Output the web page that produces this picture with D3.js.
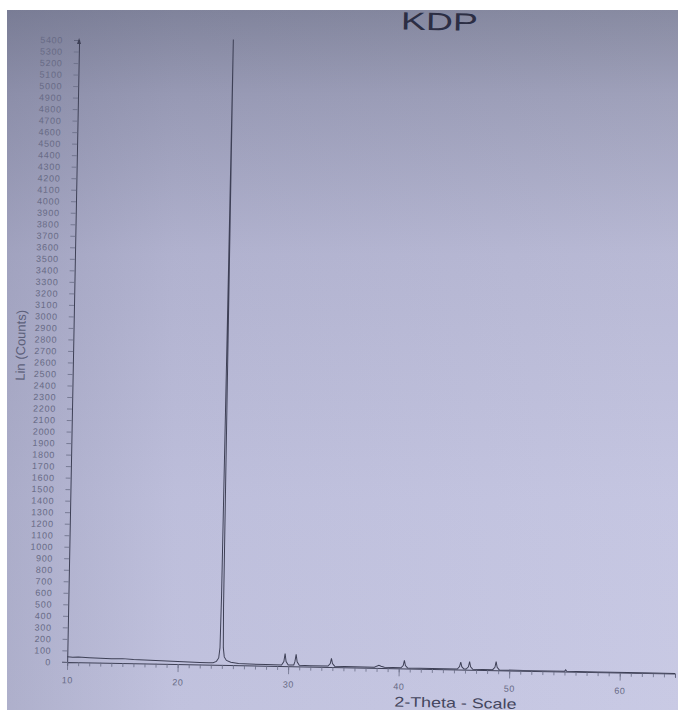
<!DOCTYPE html>
<html>
<head>
<meta charset="utf-8">
<script src="https://cdn.jsdelivr.net/npm/d3@7"></script>
<style>
html,body{margin:0;padding:0;background:#fff;}
svg{display:block;}
</style>
</head>
<body>
<div id="chart"></div>
<script>
// ---- data ----
const title = "KDP";
const xLabel = "2-Theta - Scale";
const yLabel = "Lin (Counts)";
const xTicks = [10, 20, 30, 40, 50, 60];
const yMax = 5400;
const yTicks = d3.range(0, yMax + 1, 100);
const twoTheta = [10.0, 10.5, 11.0, 12.0, 13.0, 14.0, 15.0, 16.0, 17.0, 18.0, 19.0, 20.0, 21.0, 22.0, 22.8, 23.2, 23.5, 23.7, 23.8, 23.85, 23.9, 23.95, 24.0, 24.05, 24.1, 24.2, 24.4, 24.8, 25.5, 26.5, 28.0,
  29.4, 29.6, 29.7, 29.8, 30.0, 30.5, 30.6, 30.7, 30.8, 31.0, 32.0, 33.6, 33.8, 33.9, 34.0, 34.2, 36.0,
  37.8, 38.0, 38.2, 38.4, 38.7, 40.2, 40.4, 40.5, 40.6, 40.8, 43.0, 45.3, 45.5, 45.6, 45.7, 45.9, 46.1,
  46.3, 46.4, 46.5, 46.7, 48.5, 48.7, 48.8, 48.9, 49.1, 52.0, 55.0, 55.1, 55.2, 58.0, 62.0, 65.0];
const counts = [45, 42, 44, 40, 38, 36, 38, 32, 30, 28, 25, 22, 20, 18, 16, 18, 30, 60, 150, 600, 2800, 5430, 2600, 500, 150, 70, 40, 25, 15, 12, 10,
  10, 40, 110, 40, 10, 12, 40, 105, 40, 10, 8, 8, 30, 75, 30, 8, 6,
  6, 15, 22, 15, 6, 5, 25, 70, 25, 5, 4, 4, 25, 65, 25, 5, 5,
  25, 70, 25, 4, 4, 25, 75, 25, 3, 2, 2, 15, 2, 1, 2, 1];

// ---- layout ----
const W = 678, H = 711;
const svg = d3.select("#chart").append("svg").attr("width", W).attr("height", H);
const defs = svg.append("defs");

const gv = defs.append("linearGradient").attr("id", "bgv").attr("x1", 0).attr("y1", 0).attr("x2", 0).attr("y2", 1);
gv.append("stop").attr("offset", 0).attr("stop-color", "#82859d");
gv.append("stop").attr("offset", 0.12).attr("stop-color", "#9a9cb7");
gv.append("stop").attr("offset", 0.35).attr("stop-color", "#b5b6d3");
gv.append("stop").attr("offset", 0.7).attr("stop-color", "#c2c3e0");
gv.append("stop").attr("offset", 1).attr("stop-color", "#c6c7e3");

const gh = defs.append("linearGradient").attr("id", "bgh").attr("x1", 0).attr("y1", 0).attr("x2", 1).attr("y2", 0);
gh.append("stop").attr("offset", 0).attr("stop-color", "#5a5d78").attr("stop-opacity", 0.22);
gh.append("stop").attr("offset", 0.25).attr("stop-color", "#5a5d78").attr("stop-opacity", 0.05);
gh.append("stop").attr("offset", 1).attr("stop-color", "#ffffff").attr("stop-opacity", 0.05);

svg.append("rect").attr("x", 7).attr("y", 10).attr("width", W - 7).attr("height", 700).attr("fill", "url(#bgv)");
svg.append("rect").attr("x", 7).attr("y", 10).attr("width", W - 7).attr("height", 700).attr("fill", "url(#bgh)");

const ink = "#3e4056";
const g = svg.append("g").attr("transform", "rotate(1.1,370,360)");

const x = d3.scaleLinear().domain([10, 65]).range([73, 681]);
const y = d3.scaleLinear().domain([0, yMax]).range([667.7, 45.7]);

// y axis
const yAxis = g.append("g").attr("transform", `translate(${x(10)},0)`)
  .call(d3.axisLeft(y).tickValues(yTicks).tickSize(5).tickPadding(11).tickFormat(d3.format("d")));
yAxis.select(".domain").attr("stroke", ink).attr("stroke-width", 1);
yAxis.selectAll(".tick line").attr("stroke", "#6a6d86").attr("stroke-width", 0.8);
yAxis.selectAll(".tick text").attr("fill", "#686b86").attr("font-family", "Liberation Sans, Arial, sans-serif")
  .attr("font-size", 9).attr("letter-spacing", 0.7).attr("dy", "0.35em");
// arrow at top
g.append("path").attr("d", `M${x(10) - 2},${y(yMax) + 4} L${x(10)},${y(yMax) - 2} L${x(10) + 2},${y(yMax) + 4}`)
  .attr("fill", ink);

// x axis
const xMinor = d3.range(10, 66, 1);
const xAxisMinor = g.append("g").attr("transform", `translate(0,${y(0)})`)
  .call(d3.axisBottom(x).tickValues(xMinor).tickSize(4).tickFormat(""));
xAxisMinor.select(".domain").attr("stroke", ink).attr("stroke-width", 1);
xAxisMinor.selectAll(".tick line").attr("stroke", "#6a6d86").attr("stroke-width", 0.8);
const xAxis = g.append("g").attr("transform", `translate(0,${y(0)})`)
  .call(d3.axisBottom(x).tickValues(xTicks).tickSize(8).tickPadding(7).tickFormat(d3.format("d")));
xAxis.select(".domain").remove();
xAxis.selectAll(".tick line").attr("stroke", "#6a6d86").attr("stroke-width", 0.8);
xAxis.selectAll(".tick text").attr("fill", "#686b86").attr("font-family", "Liberation Sans, Arial, sans-serif")
  .attr("font-size", 9).attr("letter-spacing", 0.6);

// data line
const pts = twoTheta.map((t, i) => [t, counts[i]]);
g.append("path").datum(pts)
  .attr("fill", "none").attr("stroke", ink).attr("stroke-width", 1)
  .attr("d", d3.line().x(d => x(d[0])).y(d => y(d[1])));

// texts
g.append("text").attr("x", 433).attr("y", 29).attr("text-anchor", "middle")
  .attr("font-family", "Liberation Sans, Arial, sans-serif").attr("font-size", 25)
  .attr("textLength", 77).attr("lengthAdjust", "spacingAndGlyphs")
  .attr("fill", "#2c2e44").text(title);
g.append("text").attr("x", 462).attr("y", 706).attr("text-anchor", "middle")
  .attr("font-family", "Liberation Sans, Arial, sans-serif").attr("font-size", 14)
  .attr("textLength", 122).attr("lengthAdjust", "spacingAndGlyphs")
  .attr("fill", "#44465e").text(xLabel);
g.append("text").attr("transform", "translate(25,352) rotate(-90)").attr("text-anchor", "middle")
  .attr("font-family", "Liberation Sans, Arial, sans-serif").attr("font-size", 13)
  .attr("fill", "#5c5f7a").text(yLabel);
</script>
</body>
</html>
